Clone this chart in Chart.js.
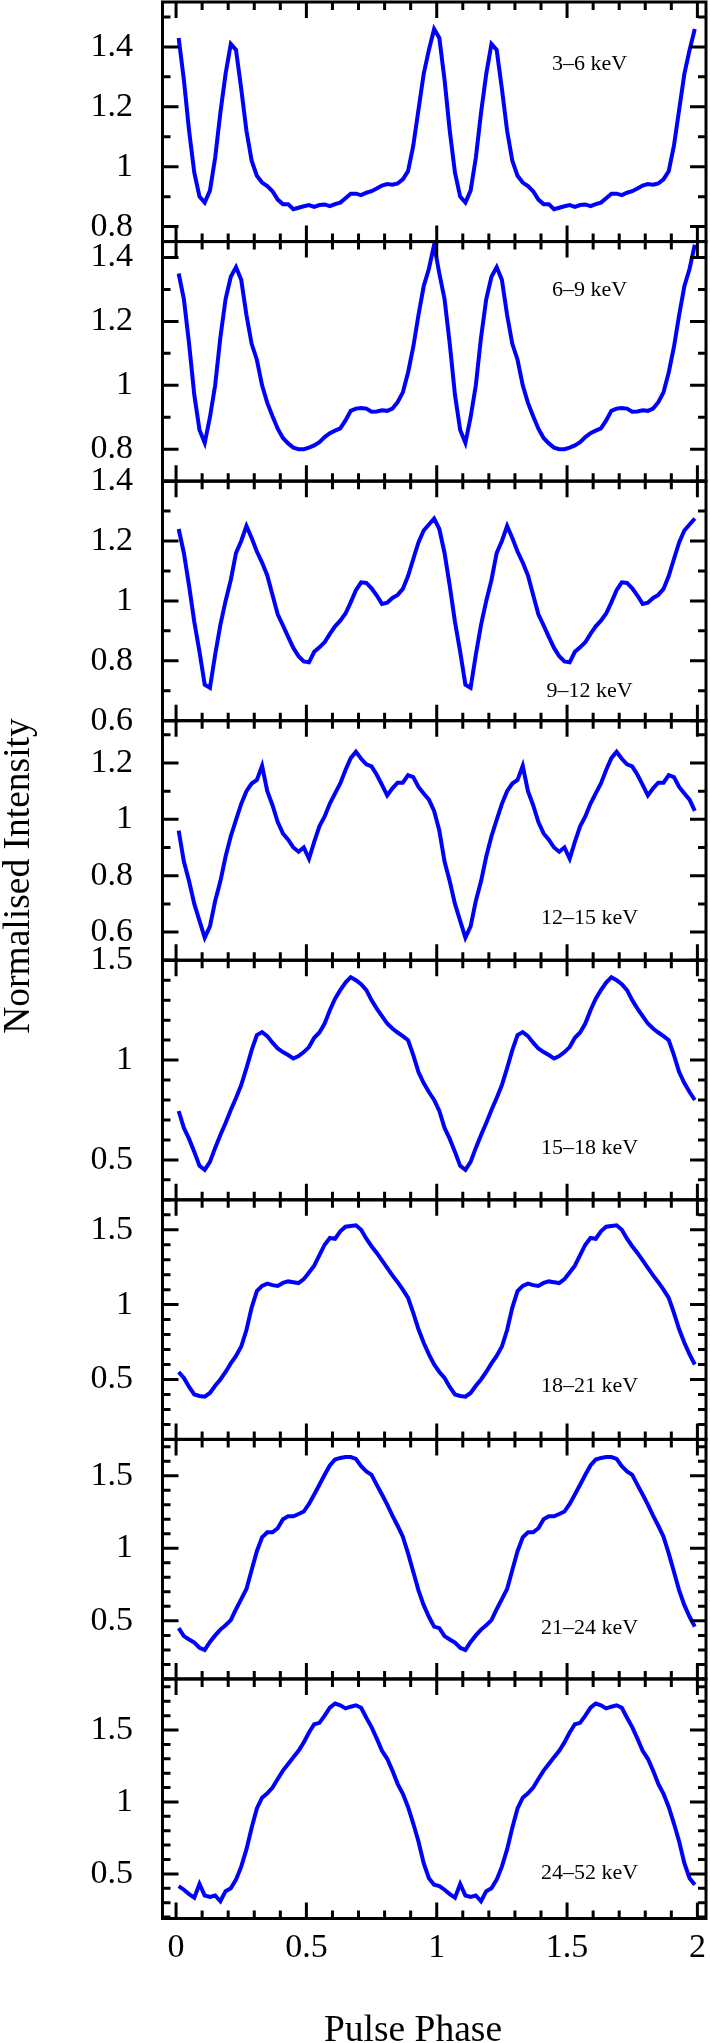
<!DOCTYPE html>
<html>
<head>
<meta charset="utf-8">
<title>Energy resolved pulse profiles</title>
<script src="https://cdn.jsdelivr.net/npm/chart.js"></script>
<style>
  html, body { margin: 0; padding: 0; background: #fff; }
  canvas { display: block; }
</style>
</head>
<body>
<canvas id="profiles" width="710" height="2043"></canvas>
<script>
// phase bin centres of one pulse cycle; the figure shows the cycle twice
var PHASE = [0.01, 0.03, 0.05, 0.07, 0.09, 0.11, 0.13, 0.15, 0.17, 0.19,
             0.21, 0.23, 0.25, 0.27, 0.29, 0.31, 0.33, 0.35, 0.37, 0.39,
             0.41, 0.43, 0.45, 0.47, 0.49, 0.51, 0.53, 0.55, 0.57, 0.59,
             0.61, 0.63, 0.65, 0.67, 0.69, 0.71, 0.73, 0.75, 0.77, 0.79,
             0.81, 0.83, 0.85, 0.87, 0.89, 0.91, 0.93, 0.95, 0.97, 0.99];

var BANDS = ['3–6 keV', '6–9 keV', '9–12 keV', '12–15 keV',
             '15–18 keV', '18–21 keV', '21–24 keV', '24–52 keV'];

var I_3_6 = [1.43, 1.29, 1.12, 0.98, 0.90, 0.88, 0.92, 1.03, 1.18, 1.31,
             1.41, 1.39, 1.26, 1.12, 1.02, 0.97, 0.947, 0.935, 0.918, 0.89,
             0.875, 0.875, 0.858, 0.863, 0.868, 0.872, 0.866, 0.872, 0.874, 0.868,
             0.875, 0.88, 0.895, 0.91, 0.91, 0.905, 0.913, 0.918, 0.927, 0.937,
             0.942, 0.94, 0.944, 0.958, 0.985, 1.07, 1.19, 1.31, 1.39, 1.46];

var I_6_9 = [1.35, 1.27, 1.13, 0.97, 0.86, 0.82, 0.90, 1.00, 1.15, 1.27,
             1.34, 1.37, 1.33, 1.22, 1.13, 1.08, 1.00, 0.945, 0.903, 0.864,
             0.835, 0.818, 0.805, 0.80, 0.80, 0.805, 0.812, 0.822, 0.838, 0.85,
             0.858, 0.865, 0.89, 0.92, 0.927, 0.929, 0.927, 0.917, 0.918, 0.922,
             0.92, 0.927, 0.947, 0.978, 1.04, 1.12, 1.22, 1.31, 1.365, 1.44];

var I_9_12 = [1.24, 1.16, 1.05, 0.93, 0.83, 0.72, 0.71, 0.82, 0.92, 1.00,
              1.07, 1.16, 1.20, 1.25, 1.21, 1.165, 1.128, 1.085, 1.02, 0.955,
              0.918, 0.88, 0.843, 0.815, 0.798, 0.795, 0.83, 0.845, 0.862, 0.89,
              0.915, 0.934, 0.958, 0.995, 1.036, 1.062, 1.06, 1.042, 1.018, 0.99,
              0.994, 1.01, 1.02, 1.04, 1.083, 1.14, 1.195, 1.235, 1.255, 1.275];

var I_12_15 = [0.96, 0.85, 0.78, 0.70, 0.64, 0.58, 0.62, 0.71, 0.78, 0.868,
               0.94, 0.998, 1.055, 1.10, 1.127, 1.14, 1.19, 1.10, 1.05, 0.99,
               0.95, 0.928, 0.90, 0.885, 0.90, 0.86, 0.92, 0.975, 1.01, 1.056,
               1.092, 1.127, 1.175, 1.217, 1.24, 1.215, 1.195, 1.188, 1.158, 1.122,
               1.085, 1.11, 1.13, 1.13, 1.157, 1.15, 1.115, 1.092, 1.07, 1.03];

var I_15_18 = [0.745, 0.66, 0.605, 0.54, 0.47, 0.45, 0.49, 0.56, 0.625, 0.685,
               0.75, 0.81, 0.875, 0.96, 1.05, 1.125, 1.14, 1.12, 1.087, 1.058,
               1.04, 1.025, 1.008, 1.02, 1.04, 1.065, 1.112, 1.138, 1.183, 1.25,
               1.308, 1.35, 1.388, 1.415, 1.40, 1.38, 1.35, 1.30, 1.258, 1.22,
               1.183, 1.158, 1.138, 1.12, 1.10, 1.025, 0.94, 0.885, 0.84, 0.80];

var I_18_21 = [0.55, 0.51, 0.45, 0.40, 0.39, 0.385, 0.41, 0.458, 0.50, 0.55,
               0.607, 0.657, 0.72, 0.83, 0.98, 1.09, 1.125, 1.14, 1.13, 1.125,
               1.145, 1.155, 1.15, 1.144, 1.17, 1.215, 1.26, 1.33, 1.40, 1.445,
               1.44, 1.49, 1.52, 1.525, 1.53, 1.50, 1.44, 1.39, 1.345, 1.295,
               1.245, 1.195, 1.15, 1.10, 1.045, 0.945, 0.835, 0.745, 0.668, 0.60];

var I_21_24 = [0.45, 0.395, 0.372, 0.35, 0.315, 0.30, 0.355, 0.40, 0.44, 0.47,
               0.505, 0.58, 0.65, 0.72, 0.85, 0.98, 1.075, 1.11, 1.11, 1.138,
               1.20, 1.22, 1.22, 1.236, 1.253, 1.305, 1.37, 1.437, 1.506, 1.57,
               1.611, 1.622, 1.628, 1.628, 1.616, 1.565, 1.53, 1.506, 1.437, 1.37,
               1.30, 1.225, 1.155, 1.08, 0.965, 0.838, 0.71, 0.608, 0.528, 0.46];

var I_24_52 = [0.415, 0.39, 0.36, 0.335, 0.43, 0.35, 0.34, 0.35, 0.31, 0.38,
               0.40, 0.46, 0.55, 0.67, 0.82, 0.955, 1.03, 1.06, 1.10, 1.16,
               1.218, 1.264, 1.31, 1.356, 1.414, 1.483, 1.54, 1.55, 1.60, 1.655,
               1.684, 1.672, 1.65, 1.662, 1.672, 1.655, 1.585, 1.52, 1.44, 1.356,
               1.30, 1.218, 1.126, 1.057, 0.965, 0.85, 0.725, 0.575, 0.47, 0.425];

var PROFILES = [I_3_6, I_6_9, I_9_12, I_12_15, I_15_18, I_18_21, I_21_24, I_24_52];

// axis limits and labelled ticks of each panel
var Y_MIN = [0.75, 0.70, 0.60, 0.50, 0.30, 0.10, 0.10, 0.19];
var Y_MAX = [1.55, 1.45, 1.40, 1.35, 1.50, 1.70, 1.75, 1.855];
var Y_TICKS = [[0.8, 1, 1.2, 1.4], [0.8, 1, 1.2, 1.4], [0.6, 0.8, 1, 1.2, 1.4], [0.6, 0.8, 1, 1.2],
               [0.5, 1, 1.5], [0.5, 1, 1.5], [0.5, 1, 1.5], [0.5, 1, 1.5]];
var X_MIN = -0.052, X_MAX = 2.033;
var X_TICKS = [0, 0.5, 1, 1.5, 2];

// layout / style
var FONT = "'Liberation Serif', 'Times New Roman', serif";
var LINE_BLUE = '#0000ff';
var LABEL_X = 1.586;                       // band label centre, in phase
var LABEL_FRAC = [0.259, 0.205, 0.875, 0.825, 0.783, 0.779, 0.787, 0.812];
var MAJOR = 16, MINOR = 8;

function twoCycles(values) {
    var pts = [];
    for (var c = 0; c < 2; c++) {
        for (var i = 0; i < PHASE.length; i++) {
            pts.push({ x: PHASE[i] + c, y: values[i] });
        }
    }
    return pts;
}

function num(v) { return String(+(+v).toFixed(2)); }

var framePlugin = {
    id: 'frames',
    afterDatasetsDraw: function (chart) {
        var ctx = chart.ctx, xs = chart.scales.x, area = chart.chartArea;
        ctx.save();
        ctx.strokeStyle = '#000';
        ctx.lineWidth = 3;
        for (var i = 0; i < BANDS.length; i++) {
            var ys = chart.scales['y' + i];
            var top = ys.top, bot = ys.bottom;
            ctx.strokeRect(area.left, top, area.right - area.left, bot - top);
            ctx.beginPath();
            for (var k = 0; k <= 20; k++) {
                var px = xs.getPixelForValue(k / 10);
                var len = (k % 5 === 0) ? MAJOR : MINOR;
                ctx.moveTo(px, top); ctx.lineTo(px, top + len);
                ctx.moveTo(px, bot); ctx.lineTo(px, bot - len);
            }
            var m0 = Math.ceil(Y_MIN[i] * 10 - 1e-6), m1 = Math.floor(Y_MAX[i] * 10 + 1e-6);
            for (var m = m0; m <= m1; m++) {
                var val = m / 10;
                var py = ys.getPixelForValue(val);
                var major = Y_TICKS[i].some(function (t) { return Math.abs(t - val) < 1e-6; });
                var l = major ? MAJOR : MINOR;
                ctx.moveTo(area.left, py); ctx.lineTo(area.left + l, py);
                ctx.moveTo(area.right, py); ctx.lineTo(area.right - l, py);
            }
            ctx.stroke();

            ctx.fillStyle = '#000';
            ctx.font = '22px ' + FONT;
            ctx.textAlign = 'center';
            ctx.textBaseline = 'middle';
            ctx.fillText(BANDS[i], xs.getPixelForValue(LABEL_X), top + LABEL_FRAC[i] * (bot - top));
        }

        // axis titles
        ctx.font = '37.5px ' + FONT;
        ctx.textAlign = 'center';
        ctx.textBaseline = 'alphabetic';
        ctx.fillText('Pulse Phase', 413, 2041);
        ctx.translate(29, 876);
        ctx.rotate(-Math.PI / 2);
        ctx.fillText('Normalised Intensity', 0, 0);
        ctx.restore();
    }
};

var scales = {
    x: {
        type: 'linear',
        position: 'bottom',
        min: X_MIN,
        max: X_MAX,
        grid: { display: false, drawTicks: false },
        border: { display: false },
        afterBuildTicks: function (axis) {
            axis.ticks = X_TICKS.map(function (v) { return { value: v }; });
        },
        afterFit: function (axis) {
            axis.height = 124.5;
            axis.paddingLeft = 0;
            axis.paddingRight = 0;
        },
        ticks: {
            autoSkip: false,
            maxRotation: 0,
            padding: 9,
            color: '#000',
            font: { family: FONT, size: 34 },
            callback: num
        }
    }
};

var datasets = [];
BANDS.forEach(function (name, i) {
    scales['y' + i] = {
        type: 'linear',
        position: 'left',
        stack: 'bands',
        stackWeight: 1,
        weight: BANDS.length - i,
        min: Y_MIN[i],
        max: Y_MAX[i],
        grid: { display: false, drawTicks: false },
        border: { display: false },
        afterBuildTicks: function (axis) {
            axis.ticks = Y_TICKS[i].map(function (v) { return { value: v }; });
        },
        afterFit: function (axis) {
            axis.width = 162.5;
            axis.paddingTop = 0;
            axis.paddingBottom = 0;
        },
        ticks: {
            autoSkip: false,
            padding: 29.5,
            color: '#000',
            font: { family: FONT, size: 34 },
            callback: num
        }
    };
    datasets.push({
        label: name,
        data: twoCycles(PROFILES[i]),
        xAxisID: 'x',
        yAxisID: 'y' + i,
        borderColor: LINE_BLUE,
        borderWidth: 4,
        pointRadius: 0,
        fill: false,
        tension: 0
    });
});

new Chart(document.getElementById('profiles'), {
    type: 'line',
    data: { datasets: datasets },
    options: {
        responsive: false,
        animation: false,
        devicePixelRatio: 1,
        events: [],
        layout: { padding: { left: 0, right: 4, top: 2, bottom: 0 } },
        scales: scales,
        plugins: {
            legend: { display: false },
            tooltip: { enabled: false }
        }
    },
    plugins: [framePlugin]
});
</script>
</body>
</html>
